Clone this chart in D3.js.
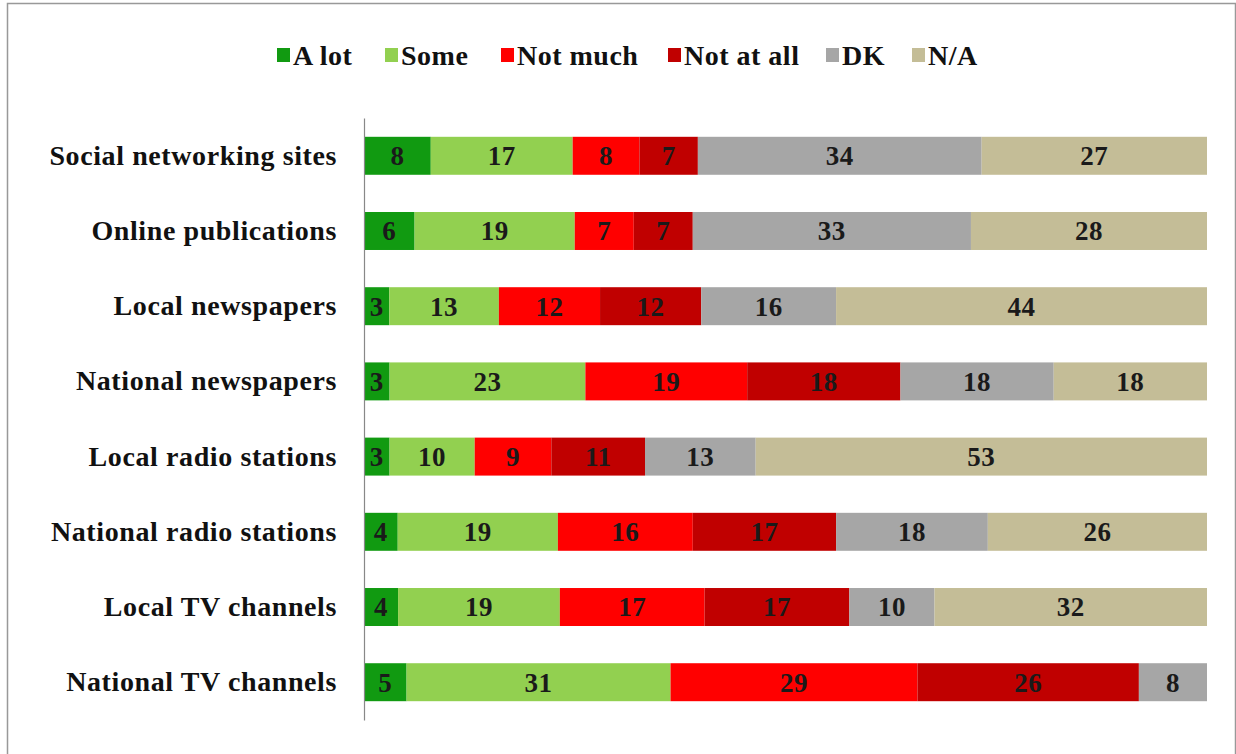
<!DOCTYPE html>
<html>
<head>
<meta charset="utf-8">
<script src="https://cdn.jsdelivr.net/npm/d3@7"></script>
<style>
  body { margin: 0; background: #fff; }
  text { font-family: "Liberation Serif", "DejaVu Serif", serif; font-weight: bold; }
</style>
</head>
<body>
<div id="chart"></div>
<script>
const categories = ["Social networking sites", "Online publications", "Local newspapers", "National newspapers",
  "Local radio stations", "National radio stations", "Local TV channels", "National TV channels"];
const seriesNames = ["A lot", "Some", "Not much", "Not at all", "DK", "N/A"];
const aLot     = [8, 6, 3, 3, 3, 4, 4, 5];
const some     = [17, 19, 13, 23, 10, 19, 19, 31];
const notMuch  = [8, 7, 12, 19, 9, 16, 17, 29];
const notAtAll = [7, 7, 12, 18, 11, 17, 17, 26];
const dk       = [34, 33, 16, 18, 13, 18, 10, 8];
const na       = [27, 28, 44, 18, 53, 26, 32, 0];
const colors = ["#119a11", "#92d050", "#ff0000", "#c00000", "#a6a6a6", "#c4bd97"];

const W = 1236, H = 754;
const margin = { top: 118, right: 29, bottom: 34, left: 364 };

const svg = d3.select("#chart").append("svg")
  .attr("width", W).attr("height", H);

// outer frame
svg.append("rect")
  .attr("x", 7.5).attr("y", 3.5)
  .attr("width", W - 8).attr("height", H)
  .attr("fill", "none").attr("stroke", "#999").attr("stroke-width", 1.5);

const allSeries = [aLot, some, notMuch, notAtAll, dk, na];
const rows = categories.map((c, i) => {
  const r = { cat: c };
  seriesNames.forEach((s, j) => r[s] = allSeries[j][i]);
  return r;
});

const stack = d3.stack().keys(seriesNames).offset(d3.stackOffsetExpand);
const stacked = stack(rows);

const x = d3.scaleLinear().domain([0, 1]).range([margin.left, W - margin.right]);
const y = d3.scaleBand().domain(categories)
  .range([margin.top, H - margin.bottom]).paddingInner(0.495).paddingOuter(0.25);

const color = d3.scaleOrdinal().domain(seriesNames).range(colors);

const g = svg.append("g");
stacked.forEach(layer => {
  const lg = g.append("g");
  lg.selectAll("rect")
    .data(layer)
    .join("rect")
    .attr("x", d => x(d[0]))
    .attr("y", d => y(d.data.cat))
    .attr("width", d => x(d[1]) - x(d[0]))
    .attr("height", y.bandwidth())
    .attr("fill", color(layer.key));
  lg.selectAll("text")
    .data(layer.filter(d => d.data[layer.key] > 0))
    .join("text")
    .attr("x", d => (x(d[0]) + x(d[1])) / 2)
    .attr("y", d => y(d.data.cat) + y.bandwidth() / 2)
    .attr("dy", "0.35em")
    .attr("text-anchor", "middle")
    .attr("font-size", 27)
    .attr("letter-spacing", 0.5)
    .attr("fill", "#1a1a1a")
    .text(d => d.data[layer.key]);
});

// category axis
const yAxis = svg.append("g")
  .attr("transform", `translate(${margin.left},0)`)
  .call(d3.axisLeft(y).tickSize(0).tickPadding(27));
yAxis.select(".domain").attr("stroke", "#888").attr("stroke-width", 1.2);
yAxis.selectAll("text")
  .attr("font-size", 28)
  .attr("letter-spacing", 0.6)
  .attr("font-family", "Liberation Serif, serif")
  .attr("font-weight", "bold")
  .attr("fill", "#111");

// legend
const legendX = [277, 385, 501, 668, 826, 912];
const legend = svg.append("g").selectAll("g")
  .data(seriesNames)
  .join("g")
  .attr("transform", (d, i) => `translate(${legendX[i]},55)`);
legend.append("rect")
  .attr("x", 0).attr("y", -7).attr("width", 13).attr("height", 14)
  .attr("fill", d => color(d));
legend.append("text")
  .attr("x", 16).attr("dy", "0.35em")
  .attr("font-size", 28)
  .attr("letter-spacing", 0.5)
  .attr("fill", "#111")
  .text(d => d);
</script>
</body>
</html>
